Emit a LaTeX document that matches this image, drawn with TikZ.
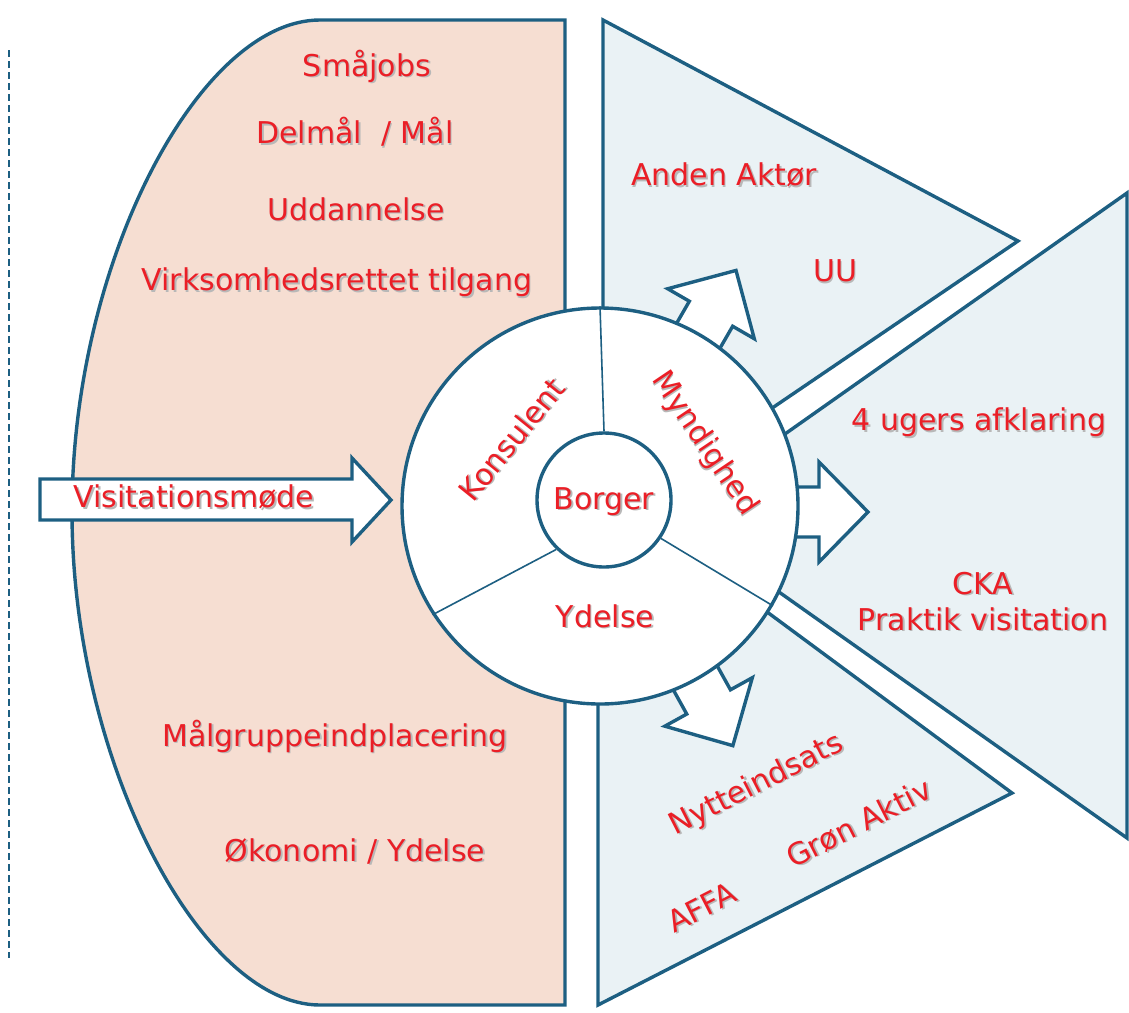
\documentclass[tikz,border=0pt]{standalone}
\usepackage{fontspec}
\setmainfont{DejaVu Sans}
\definecolor{edge}{HTML}{1D5F82}
\definecolor{peach}{HTML}{F6DED2}
\definecolor{iceblue}{HTML}{EAF2F5}
\definecolor{txtred}{RGB}{235,30,38}
\newcommand\txs[1]{\leavevmode\rlap{\kern1.6pt\raisebox{-1.6pt}{\color{black!28}#1}}#1}
\begin{document}
\begin{tikzpicture}[x=1pt,y=-1pt,
  shp/.style={draw=edge, line width=3.4pt, line join=miter},
  blockarrow/.style={draw=edge, line width=3.4pt, fill=white, line join=miter},
  thin/.style={draw=edge, line width=1.6pt},
  lbl/.style={text=txtred, font=\fontsize{30}{36}\selectfont, inner sep=0pt}]
\useasboundingbox (0,0) rectangle (1129,1012);
% dashed line at left
\draw[edge, line width=1.4pt, dash pattern=on 7pt off 4pt] (9,50) -- (9,958);
% peach region
\draw[shp, fill=peach] (565,20) -- (320,20) .. controls (200,20) and (72,260) .. (72,512)
  .. controls (72,760) and (200,1005) .. (320,1005) -- (565,1005) -- cycle;
% triangles
\draw[shp, fill=iceblue] (603,20) -- (1018,241) -- (603,523) -- cycle;
\draw[shp, fill=iceblue] (1127,193) -- (1127,838) -- (670,515) -- cycle;
\draw[shp, fill=iceblue] (598,487) -- (1012,793) -- (598,1005) -- cycle;
% small block arrows
\begin{scope}[shift={(600,506)}, rotate=60]
  \draw[blockarrow] (175,-25) -- (222,-25) -- (222,-50) -- (272,0) -- (222,50) -- (222,25) -- (175,25) -- cycle;
\end{scope}
\begin{scope}[shift={(600,512)}]
  \draw[blockarrow] (175,-25) -- (219,-25) -- (219,-50) -- (268,0) -- (219,50) -- (219,25) -- (175,25) -- cycle;
\end{scope}
\begin{scope}[shift={(600,506)}, rotate=-61]
  \draw[blockarrow] (175,-25) -- (224,-25) -- (224,-50) -- (274,0) -- (224,50) -- (224,25) -- (175,25) -- cycle;
\end{scope}
% circles
\node[circle, draw=edge, line width=3.4pt, fill=white, minimum size=396pt, inner sep=0pt] (outer) at (600,506) {};
\node[circle, draw=edge, line width=3.4pt, fill=white, minimum size=134pt, inner sep=0pt] (inner) at (604,500) {};
\draw[thin] (inner.north) -- (outer.north);
\draw[thin] (inner.226) -- (outer.213);
\draw[thin] (inner.326) -- (outer.330);
% left block arrow
\draw[blockarrow] (40,479) -- (352,479) -- (352,458) -- (391,500) -- (352,542) -- (352,520) -- (40,520) -- cycle;
% texts
\node[lbl] (smaajobs) at (367,67) {\txs{Småjobs}};
\node[lbl] (delmaal) at (355,133) {\txs{Delmål\ \ / Mål}};
\node[lbl] (udd) at (356,210) {\txs{Uddannelse}};
\node[lbl] (virk) at (337,283) {\txs{Virksomhedsrettet tilgang}};
\node[lbl] (maalgr) at (335,737) {\txs{Målgruppeindplacering}};
\node[lbl] (okon) at (355,852) {\txs{Økonomi / Ydelse}};
\node[lbl] (visit) at (194,498) {\txs{Visitationsmøde}};
\node[lbl, rotate=51] (kons) at (512,440) {\txs{Konsulent}};
\node[lbl, rotate=-56] (mynd) at (704,444) {\txs{Myndighed}};
\node[lbl] (borger) at (604,502) {\txs{Borger}};
\node[lbl] (ydelse) at (605,617) {\txs{Ydelse}};
\node[lbl] (anden) at (724,176) {\txs{Anden Aktør}};
\node[lbl] (uu) at (835,272) {\txs{UU}};
\node[lbl] (fire) at (979,423) {\txs{4 ugers afklaring}};
\node[lbl] (cka) at (983,584) {\txs{CKA}};
\node[lbl] (praktik) at (983,620) {\txs{Praktik\ visitation}};
\node[lbl, rotate=27] (nytte) at (757,786) {\txs{Nytteindsats}};
\node[lbl, rotate=27] (groen) at (859,824) {\txs{Grøn Aktiv}};
\node[lbl, rotate=27] (affa) at (702,908) {\txs{AFFA}};
\end{tikzpicture}
\end{document}
